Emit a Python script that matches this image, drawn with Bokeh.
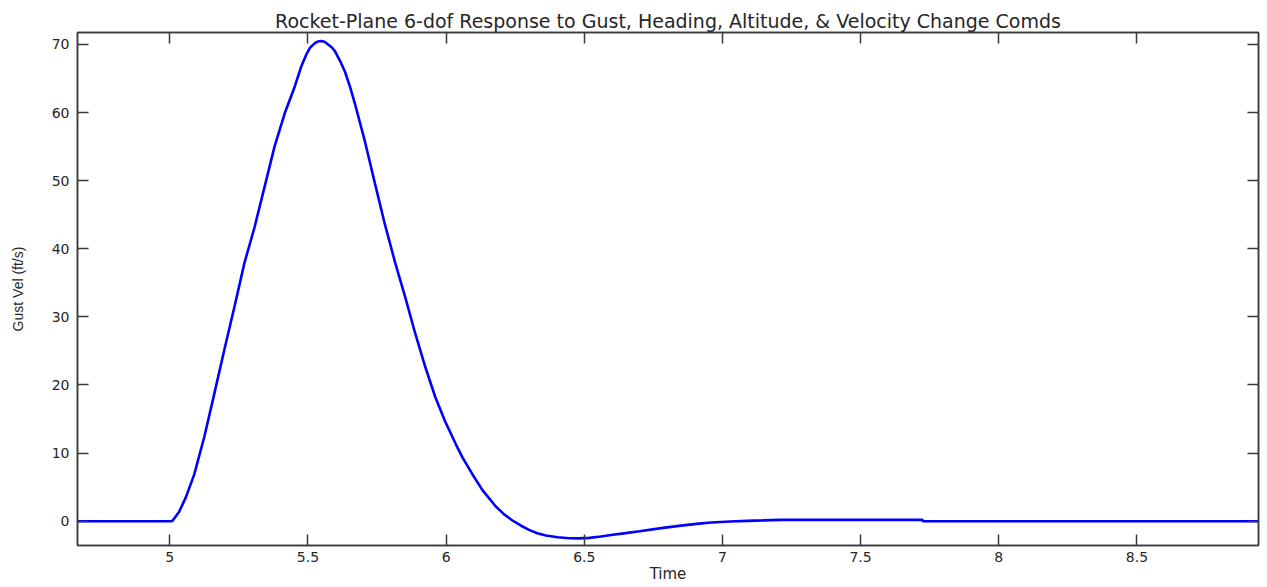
from bokeh.plotting import figure
from bokeh.models import LinearAxis, FixedTicker, NumeralTickFormatter, Range1d, CustomLabelingPolicy
from bokeh.embed import file_html
from bokeh.resources import INLINE

# --- data ---
time_s = [4.666, 5.0, 5.010, 5.034, 5.058, 5.088, 5.125, 5.161, 5.197, 5.234,
          5.270, 5.307, 5.343, 5.379, 5.416, 5.452, 5.476, 5.495, 5.507, 5.525,
          5.537, 5.547, 5.560, 5.573, 5.586, 5.598, 5.616, 5.634, 5.652, 5.670,
          5.706, 5.743, 5.779, 5.816, 5.852, 5.888, 5.925, 5.961, 5.997, 6.034,
          6.060, 6.095, 6.131, 6.179, 6.210, 6.240, 6.270, 6.300, 6.330, 6.361,
          6.404, 6.446, 6.480, 6.519, 6.560, 6.604, 6.650, 6.700, 6.785, 6.850,
          6.906, 6.960, 7.028, 7.090, 7.149, 7.210, 7.724, 7.725, 8.94]
gust_vel = [0.0, 0.0, 0.05, 1.4, 3.5, 6.8, 12.4, 18.7, 25.1, 31.5,
            37.9, 43.2, 49.1, 55.0, 59.9, 63.8, 66.8, 68.6, 69.5, 70.2,
            70.45, 70.5, 70.4, 70.0, 69.6, 69.0, 67.6, 66.0, 63.8, 61.3,
            55.8, 49.5, 43.5, 37.9, 32.9, 27.6, 22.6, 18.2, 14.6, 11.4,
            9.3, 6.9, 4.6, 2.2, 1.0, 0.1, -0.63, -1.27, -1.76, -2.1,
            -2.35, -2.5, -2.52, -2.45, -2.25, -2.0, -1.75, -1.47, -0.98, -0.65,
            -0.39, -0.2, -0.05, 0.05, 0.12, 0.2, 0.2, 0.0, 0.0]
x_ticks = [5, 5.5, 6, 6.5, 7, 7.5, 8, 8.5]
y_ticks = [0, 10, 20, 30, 40, 50, 60, 70]

TXT = "#262626"
AX = "#3a3a3a"

p = figure(width=1267, height=587,
           x_range=Range1d(4.666, 8.94), y_range=Range1d(-3.57, 71.76),
           output_backend="svg", toolbar_location=None,
           min_border_left=77, min_border_right=9,
           min_border_top=32, min_border_bottom=42,
           title="Rocket-Plane 6-dof Response to Gust, Heading, Altitude, & Velocity Change Comds")
p.background_fill_color = "white"
p.border_fill_color = "white"
p.outline_line_color = AX
p.outline_line_width = 1.5
p.grid.visible = False

p.title.align = "center"
p.title.text_font = "DejaVu Sans"
p.title.text_font_size = "19px"
p.title.text_font_style = "normal"
p.title.text_color = TXT
p.title.standoff = 2

p.line(time_s, gust_vel, line_color="#0000ff", line_width=2.6)

no_labels = CustomLabelingPolicy(code="return new Set()")

def style(ax, labels=True):
    ax.axis_line_color = AX
    ax.axis_line_width = 1.5
    ax.major_tick_line_color = AX
    ax.major_tick_line_width = 1.5
    ax.major_tick_in = 11
    ax.major_tick_out = 0
    ax.minor_tick_line_color = None
    ax.major_label_text_font = "DejaVu Sans"
    ax.major_label_text_font_size = "14px"
    ax.major_label_text_color = TXT
    if not labels:
        ax.major_label_policy = no_labels
        ax.major_label_text_font_size = "0px"
        ax.major_label_standoff = 0

xa = p.xaxis[0]
xa.ticker = FixedTicker(ticks=x_ticks)
xa.formatter = NumeralTickFormatter(format="0.[0]")
style(xa)
xa.major_label_standoff = 6
xa.axis_label = "Time"
xa.axis_label_text_font = "DejaVu Sans"
xa.axis_label_text_font_size = "15px"
xa.axis_label_text_font_style = "normal"
xa.axis_label_text_color = TXT
xa.axis_label_standoff = 0

ya = p.yaxis[0]
ya.ticker = FixedTicker(ticks=y_ticks)
style(ya)
ya.major_label_standoff = 8
ya.axis_label = "Gust Vel (ft/s)"
ya.axis_label_text_font = "Liberation Sans"
ya.axis_label_text_font_size = "14px"
ya.axis_label_text_font_style = "normal"
ya.axis_label_text_color = TXT
ya.axis_label_standoff = 23

top = LinearAxis(ticker=FixedTicker(ticks=x_ticks))
style(top, labels=False)
p.add_layout(top, "above")
right = LinearAxis(ticker=FixedTicker(ticks=y_ticks))
style(right, labels=False)
p.add_layout(right, "right")

open("out.html", "w").write(file_html(p, INLINE))
